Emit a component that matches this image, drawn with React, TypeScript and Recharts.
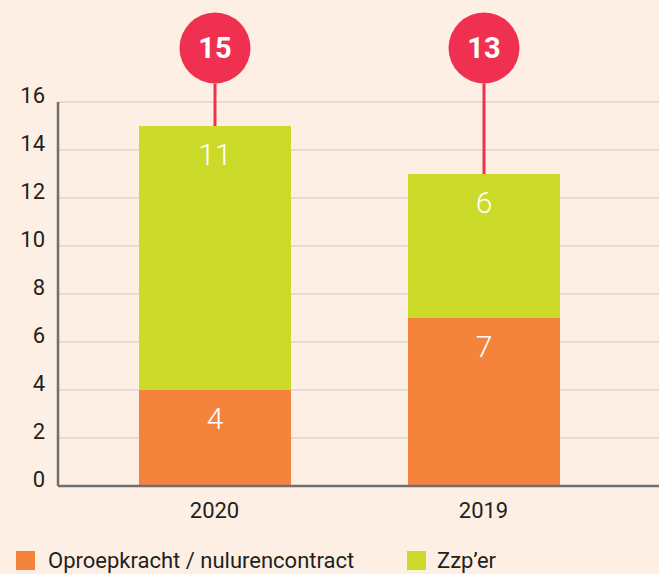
import { BarChart, Bar, XAxis, YAxis, CartesianGrid, LabelList } from 'recharts';

const YEARS = ['2020', '2019'];
const OPROEP = [4, 7];
const ZZP = [11, 6];
const Y_TICKS = [0, 2, 4, 6, 8, 10, 12, 14, 16];

const BG = '#fdefe4';
const ORANGE = '#f4843c';
const GREEN = '#ccdb2a';
const RED = '#ef3050';
const TEXT = '#231f20';
const FONT = 'Roboto, "DejaVu Sans", sans-serif';

const data = YEARS.map((year, i) => ({
  year,
  oproep: OPROEP[i],
  zzp: ZZP[i],
  total: OPROEP[i] + ZZP[i],
}));

// y axis labels sit just above their gridline
const YTick = (props: any) => {
  const { x, y, payload } = props;
  return (
    <text x={x} y={y + 1} textAnchor="end" fontSize={22} fill={TEXT} fontFamily={FONT}>
      {payload.value}
    </text>
  );
};

// pin with the total above each stacked bar
const TotalPin = (props: any) => {
  const { x, y, width, index } = props;
  const cx = x + width / 2;
  const cy = 48;
  const r = 35.5;
  return (
    <g>
      <line x1={cx} y1={y} x2={cx} y2={cy + r} stroke={RED} strokeWidth={3} />
      <circle cx={cx} cy={cy} r={r} fill={RED} />
      <text
        x={cx}
        y={cy}
        dy="0.36em"
        textAnchor="middle"
        fill="#fff"
        fontSize={29}
        fontWeight={700}
        fontFamily={FONT}
      >
        {data[index].total}
      </text>
    </g>
  );
};

const barLabel = {
  position: 'insideTop' as const,
  offset: 18,
  fill: '#fff',
  fontSize: 30,
  fontWeight: 300,
  fontFamily: FONT,
};

export default function App() {
  return (
    <div style={{ position: 'fixed', left: 0, top: 0, width: 659, height: 574, background: BG }}>
      <BarChart
        width={659}
        height={574}
        data={data}
        margin={{ top: 102, right: 0, bottom: 58, left: 0 }}
      >
        <CartesianGrid vertical={false} stroke="#cdc7c2" strokeWidth={1} />
        <XAxis
          dataKey="year"
          height={30}
          padding={{ left: 22, right: 41 }}
          axisLine={{ stroke: '#6f6f6f', strokeWidth: 2.5 }}
          tickLine={false}
          tickMargin={10}
          tick={{ fontSize: 22, fill: TEXT, fontFamily: FONT }}
        />
        <YAxis
          width={58}
          domain={[0, 16]}
          ticks={Y_TICKS}
          interval={0}
          axisLine={{ stroke: '#6f6f6f', strokeWidth: 2.5 }}
          tickLine={false}
          tickMargin={7}
          tick={<YTick />}
        />
        <Bar dataKey="oproep" stackId="a" fill={ORANGE} barSize={152} isAnimationActive={false}>
          <LabelList dataKey="oproep" {...barLabel} />
        </Bar>
        <Bar dataKey="zzp" stackId="a" fill={GREEN} barSize={152} isAnimationActive={false}>
          <LabelList dataKey="zzp" {...barLabel} />
          <LabelList dataKey="total" content={<TotalPin />} />
        </Bar>
      </BarChart>

      {/* legend */}
      <div style={{ position: 'absolute', left: 16, top: 551, display: 'flex', alignItems: 'center' }}>
        <div style={{ width: 19, height: 19, background: ORANGE }} />
        <span style={{ marginLeft: 13, fontSize: 22, color: TEXT, fontFamily: FONT, lineHeight: '19px' }}>
          Oproepkracht / nulurencontract
        </span>
      </div>
      <div style={{ position: 'absolute', left: 407, top: 551, display: 'flex', alignItems: 'center' }}>
        <div style={{ width: 19, height: 19, background: GREEN }} />
        <span style={{ marginLeft: 11, fontSize: 22, color: TEXT, fontFamily: FONT, lineHeight: '19px' }}>
          Zzp’er
        </span>
      </div>
    </div>
  );
}
